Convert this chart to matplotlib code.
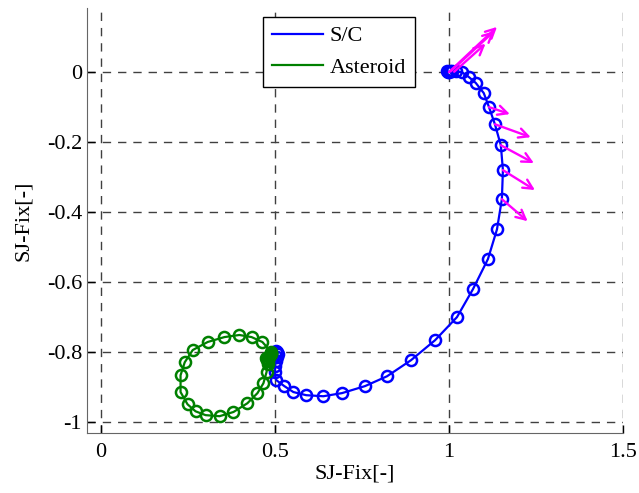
import matplotlib
matplotlib.use("Agg")
import matplotlib.pyplot as plt
import numpy as np

plt.rcParams['font.family'] = ['Liberation Serif', 'DejaVu Serif']
plt.rcParams['axes.unicode_minus'] = False

# Spacecraft trajectory (S/C)
sc_x = [0.995, 0.998, 1.000, 1.003, 1.009, 1.020, 1.037, 1.057, 1.077, 1.100, 1.115, 1.132,
        1.149, 1.155, 1.152, 1.138, 1.112, 1.069, 1.023, 0.960, 0.891, 0.822, 0.759,
        0.693, 0.639, 0.590, 0.553, 0.527, 0.504, 0.499, 0.500, 0.503, 0.506, 0.508,
        0.505, 0.502]
sc_y = [0.003, 0.001, 0.000, 0.002, 0.003, 0.002, 0.000, -0.014, -0.031, -0.060, -0.100, -0.149,
        -0.209, -0.280, -0.363, -0.449, -0.534, -0.620, -0.700, -0.766, -0.823, -0.869, -0.897,
        -0.917, -0.926, -0.923, -0.914, -0.897, -0.880, -0.857, -0.840, -0.826, -0.815, -0.805,
        -0.800, -0.798]

# Asteroid trajectory
ast_x = [0.490, 0.464, 0.433, 0.398, 0.355, 0.307, 0.264, 0.241, 0.229, 0.229, 0.249,
         0.272, 0.301, 0.341, 0.381, 0.421, 0.450, 0.467, 0.476, 0.479, 0.480, 0.481,
         0.482, 0.484, 0.486, 0.488, 0.490, 0.478, 0.474]
ast_y = [-0.800, -0.771, -0.757, -0.751, -0.757, -0.771, -0.794, -0.829, -0.866, -0.914, -0.949,
         -0.969, -0.980, -0.983, -0.971, -0.946, -0.917, -0.889, -0.857, -0.835, -0.826, -0.820,
         -0.815, -0.811, -0.808, -0.805, -0.802, -0.822, -0.818]

# Thrust / control arrows (quiver)
arr_x = [1.000, 1.005, 1.015, 1.115, 1.132, 1.149, 1.155, 1.152]
arr_y = [0.000, 0.002, 0.001, -0.100, -0.149, -0.209, -0.280, -0.363]
arr_u = [0.138, 0.125, 0.090, 0.060, 0.103, 0.095, 0.092, 0.074]
arr_v = [0.129, 0.115, 0.080, -0.020, -0.037, -0.051, -0.057, -0.063]

xticks = [0, 0.5, 1, 1.5]
xticklabels = ['0', '0.5', '1', '1.5']
yticks = [0, -0.2, -0.4, -0.6, -0.8, -1]
yticklabels = ['0', '-0.2', '-0.4', '-0.6', '-0.8', '-1']

fig = plt.figure(figsize=(6.39, 4.93), dpi=100)
ax = fig.add_axes([0.136, 0.1217, 0.839, 0.862])

for x0, y0, u, v in zip(arr_x, arr_y, arr_u, arr_v):
    ax.annotate('', xy=(x0 + u, y0 + v), xytext=(x0, y0),
                arrowprops=dict(arrowstyle='->', color='#ff00ff', lw=1.7,
                                mutation_scale=17, shrinkA=0, shrinkB=0), zorder=4)

ax.plot(sc_x, sc_y, '-', color='#0000ff', lw=1.6, label='S/C', zorder=3)
ax.plot(sc_x, sc_y, 'o', color='#0000ff', mfc='none', ms=8, mew=1.8, zorder=3)
ax.plot(ast_x, ast_y, '-', color='#008000', lw=1.6, label='Asteroid', zorder=3)
ax.plot(ast_x, ast_y, 'o', color='#008000', mfc='none', ms=8, mew=1.8, zorder=3)

ax.set_xlim(-0.04, 1.5)
ax.set_ylim(-1.031, 0.183)
ax.set_xticks(xticks)
ax.set_xticklabels(xticklabels)
ax.set_yticks(yticks)
ax.set_yticklabels(yticklabels)
ax.tick_params(direction='in', length=6, labelsize=16, colors='k', width=1)
ax.tick_params(axis='x', pad=7)
ax.grid(True, linestyle=(0, (6, 5)), color='0.25', lw=1)
ax.spines['top'].set_visible(False)
ax.spines['right'].set_visible(False)
ax.spines['left'].set_color('0.4')
ax.spines['bottom'].set_color('0.4')

ax.set_xlabel('SJ-Fix[-]', fontsize=16, labelpad=2)
ax.set_ylabel('SJ-Fix[-]', fontsize=16, labelpad=10)

leg = ax.legend(loc='upper left', bbox_to_anchor=(0.328, 0.979), fontsize=16,
                fancybox=False, framealpha=1, edgecolor='k', handlelength=2.3,
                borderpad=0.4, labelspacing=0.5, handletextpad=0.3, borderaxespad=0)
leg.get_frame().set_linewidth(1.0)

fig.savefig('out.png', dpi=100)
